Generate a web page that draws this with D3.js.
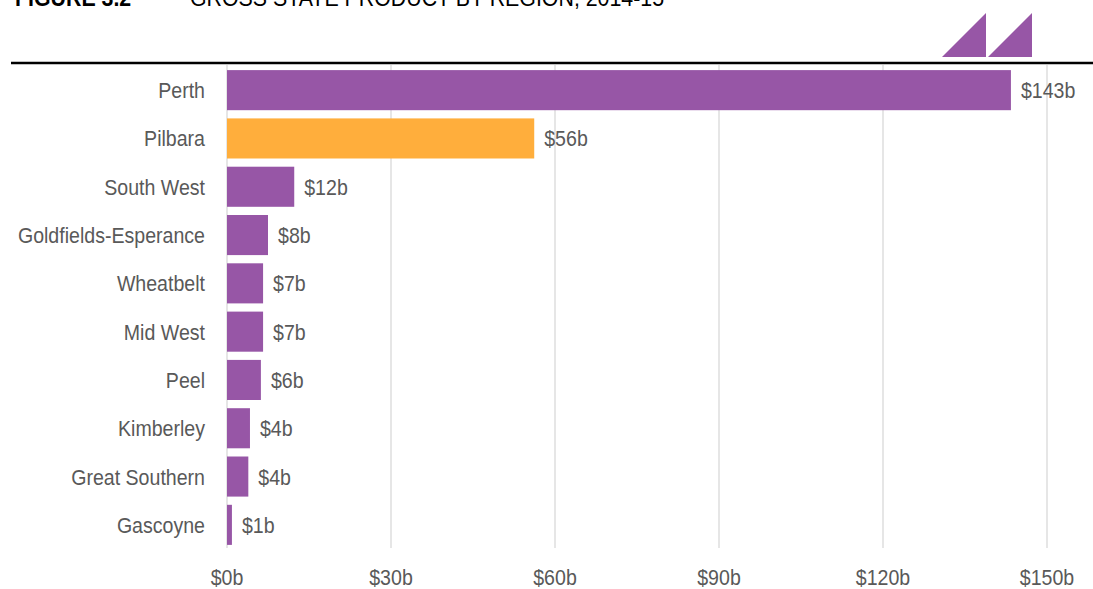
<!DOCTYPE html>
<html>
<head>
<meta charset="utf-8">
<script src="https://cdn.jsdelivr.net/npm/d3@7"></script>
<style>
  html, body { margin: 0; padding: 0; background: #fff; }
  svg { display: block; }
  text { font-family: "Liberation Sans", Arial, sans-serif; }
</style>
</head>
<body>
<svg id="chart" width="1093" height="589"></svg>
<script>
// Gross state product by region, 2014-15 ($ billion)
const regions = ["Perth", "Pilbara", "South West", "Goldfields-Esperance", "Wheatbelt",
                 "Mid West", "Peel", "Kimberley", "Great Southern", "Gascoyne"];
const gsp = [143.4, 56.2, 12.3, 7.5, 6.6, 6.6, 6.2, 4.2, 3.9, 0.9];
const highlighted = ["Pilbara"];
const xTicks = [0, 30, 60, 90, 120, 150];

const W = 1093, H = 589;
const PURPLE = "#9756a6", ORANGE = "#ffae3c", GREY_TEXT = "#595959", GRID = "#d9d9d9";
const SX = 0.89; // horizontal squeeze applied to every label

const svg = d3.select("#chart");

const x = d3.scaleLinear().domain([0, 150]).range([227, 1047]);
const y = d3.scaleBand().domain(regions).range([66, 549])
  .paddingInner(0.17).paddingOuter(0.085);

// helper: squeezed text placed at (px, py)
function label(sel, px, py) {
  return sel.attr("transform", `translate(${px},${py}) scale(${SX},1)`);
}

// Title (partly above the page edge)
const title = svg.append("g");
label(title.append("text"), 15, 6)
  .attr("font-size", 24).attr("font-weight", "bold").attr("fill", "#000")
  .text("FIGURE 3.2");
label(title.append("text"), 190, 6)
  .attr("font-size", 24).attr("fill", "#000")
  .text("GROSS STATE PRODUCT BY REGION, 2014-15");

// Logo: two right triangles
const tri = [[0, 44], [44, 44], [44, 0]];
[[942, 13], [988, 13]].forEach(([ox, oy]) => {
  svg.append("path")
    .attr("d", d3.line()(tri.map(([a, b]) => [ox + a, oy + b])) + "Z")
    .attr("fill", PURPLE);
});

// Rule under the title
svg.append("line")
  .attr("x1", 11).attr("x2", W).attr("y1", 63).attr("y2", 63)
  .attr("stroke", "#000").attr("stroke-width", 2.5);

// Vertical gridlines
svg.append("g").selectAll("line").data(xTicks).join("line")
  .attr("x1", d => x(d)).attr("x2", d => x(d))
  .attr("y1", 65).attr("y2", 548)
  .attr("stroke", GRID).attr("stroke-width", 1.3);

// X-axis tick labels
const fmt = d => "$" + d3.format(".0f")(d) + "b";
svg.append("g").selectAll("text").data(xTicks).join("text")
  .each(function (d) { label(d3.select(this), x(d), 585); })
  .attr("text-anchor", "middle").attr("font-size", 22).attr("fill", GREY_TEXT)
  .text(fmt);

// Bars
const data = regions.map((r, i) => ({ region: r, value: gsp[i] }));
svg.append("g").selectAll("rect").data(data).join("rect")
  .attr("x", x(0)).attr("y", d => y(d.region))
  .attr("width", d => x(d.value) - x(0)).attr("height", y.bandwidth())
  .attr("fill", d => highlighted.includes(d.region) ? ORANGE : PURPLE);

// Category labels
svg.append("g").selectAll("text").data(data).join("text")
  .each(function (d) { label(d3.select(this), 205, y(d.region) + y.bandwidth() / 2 + 8); })
  .attr("text-anchor", "end").attr("font-size", 22).attr("fill", GREY_TEXT)
  .text(d => d.region);

// Value labels
svg.append("g").selectAll("text").data(data).join("text")
  .each(function (d) { label(d3.select(this), x(d.value) + 10, y(d.region) + y.bandwidth() / 2 + 8); })
  .attr("font-size", 22).attr("fill", GREY_TEXT)
  .text(d => fmt(d.value));
</script>
</body>
</html>
